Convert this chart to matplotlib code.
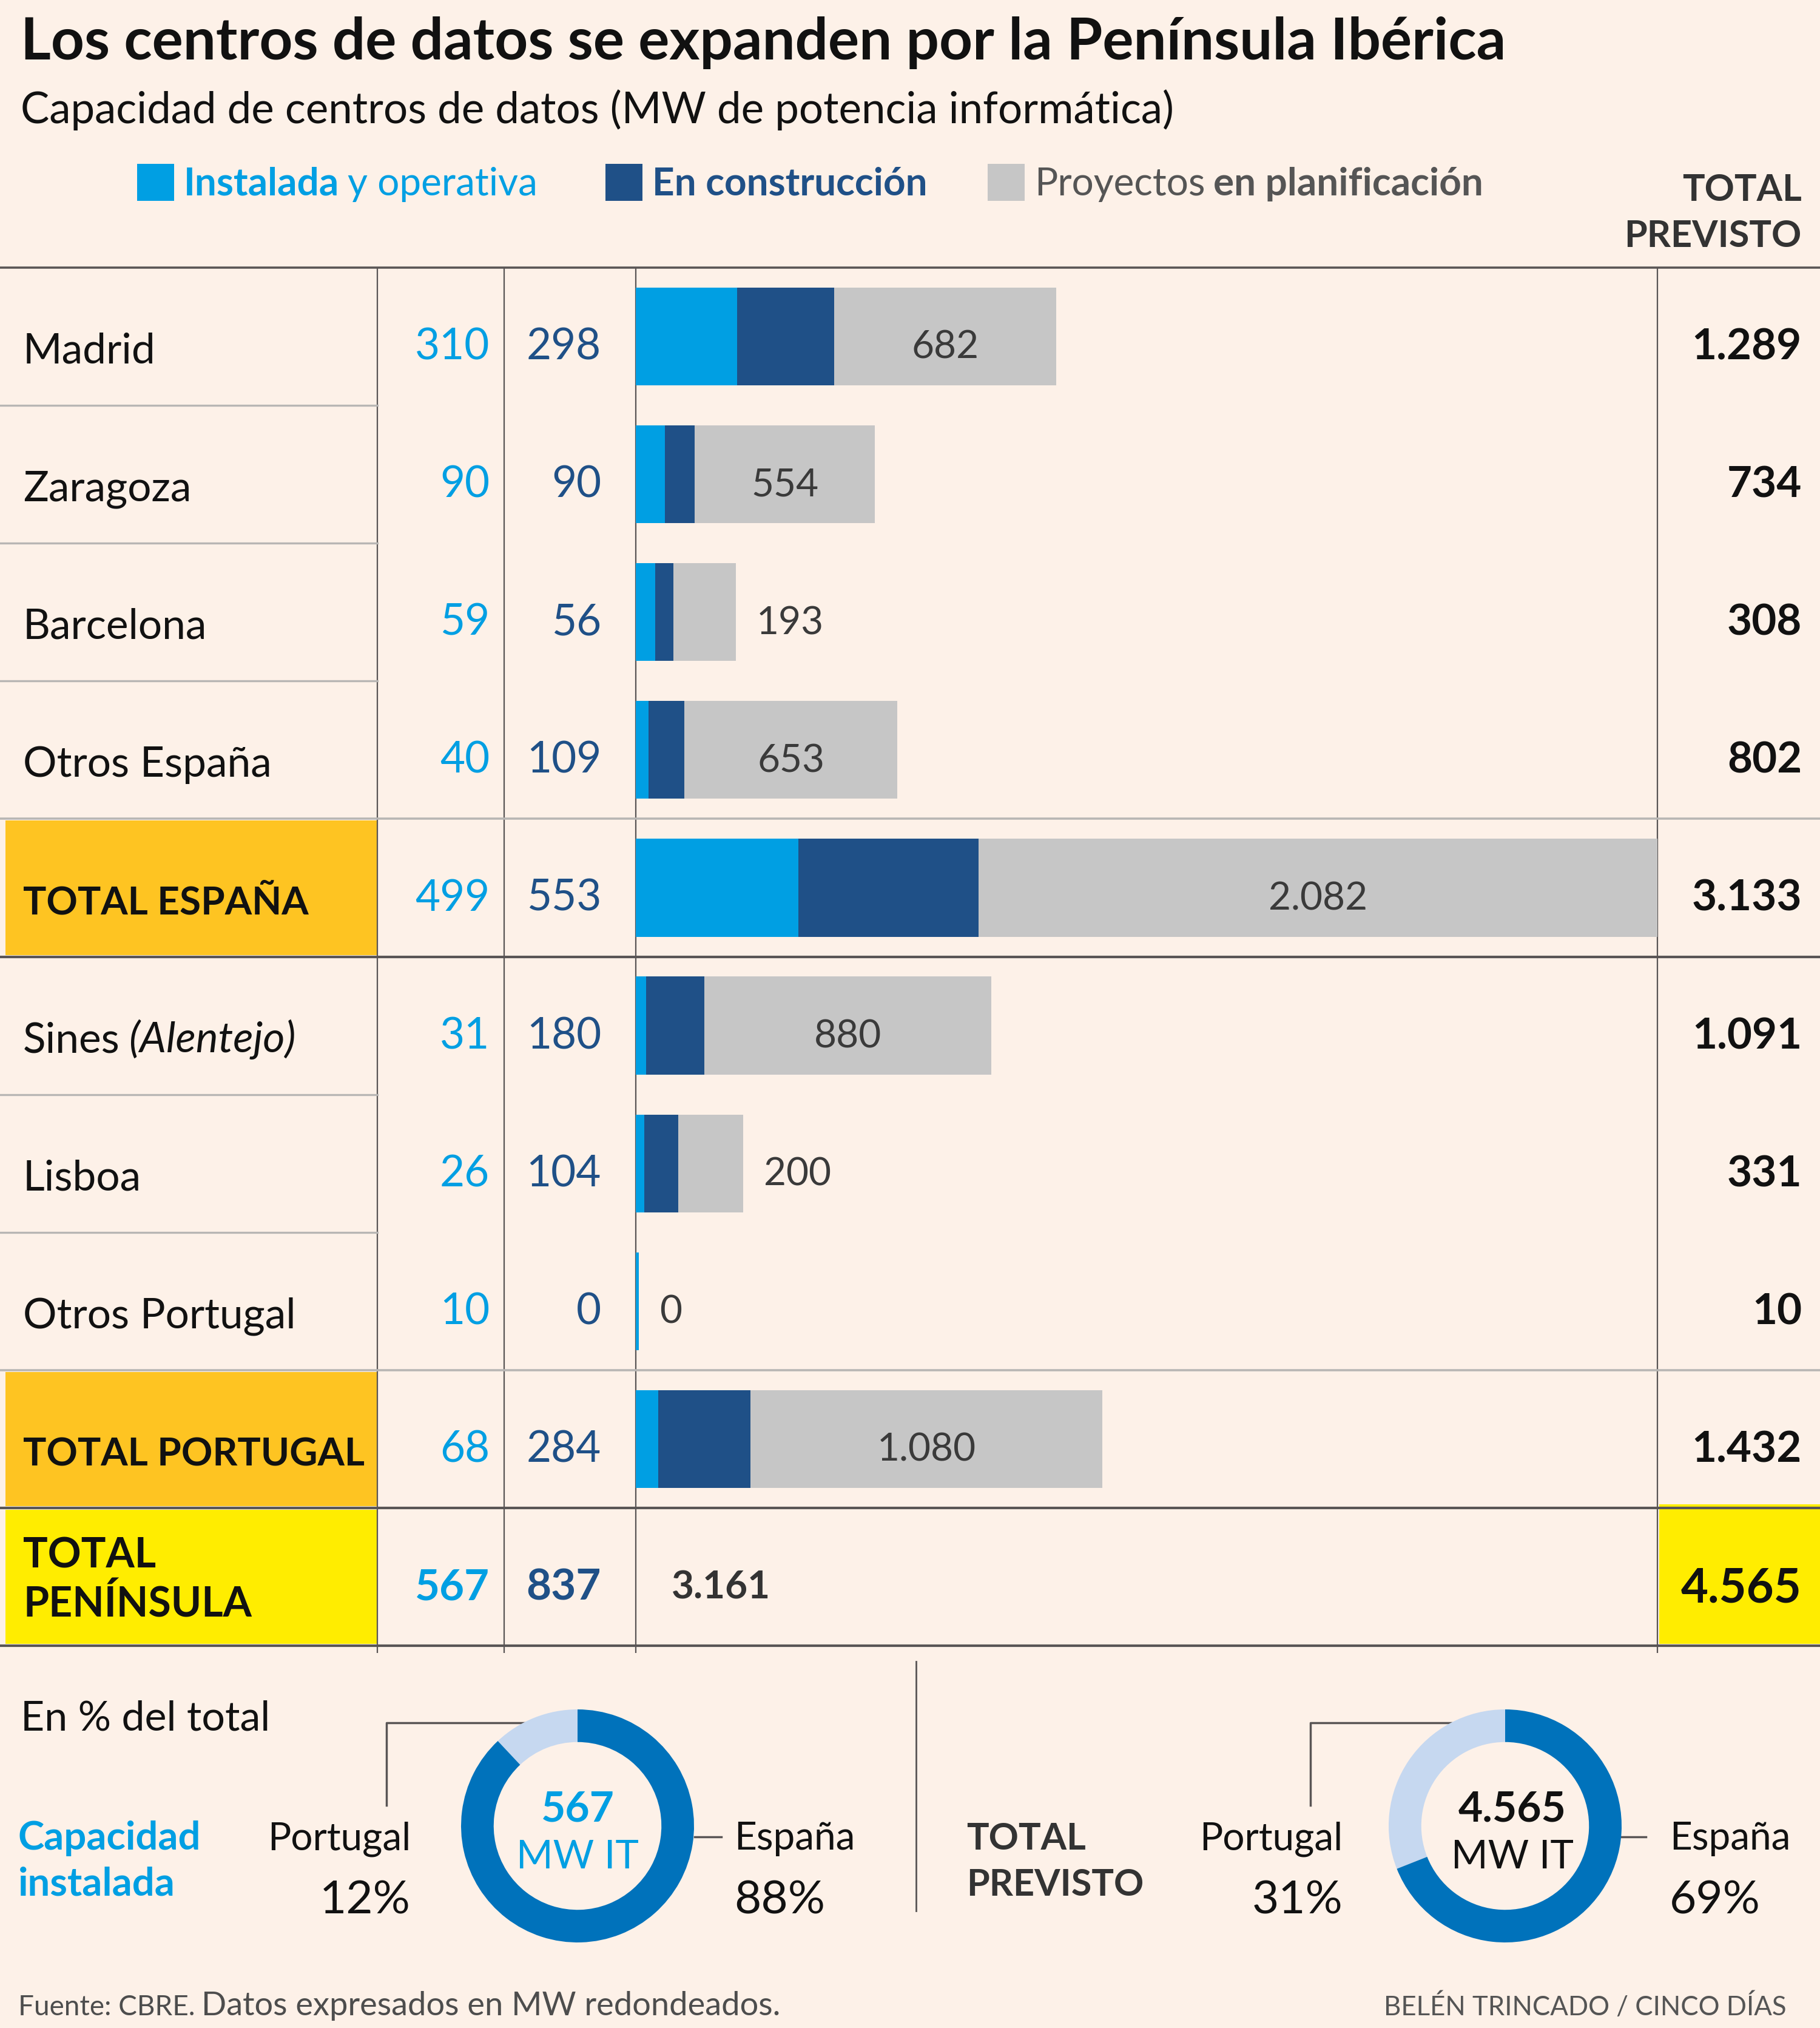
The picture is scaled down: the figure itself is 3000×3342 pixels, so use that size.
import numpy as np
import matplotlib
matplotlib.use('Agg')
import matplotlib.pyplot as plt
from matplotlib.patches import Rectangle

plt.rcParams['font.family'] = ['Lato', 'DejaVu Sans']

# data (MW de potencia informática)
regions = ['Madrid', 'Zaragoza', 'Barcelona', 'Otros España', 'TOTAL ESPAÑA',
           'Sines (Alentejo)', 'Lisboa', 'Otros Portugal', 'TOTAL PORTUGAL',
           'TOTAL\nPENÍNSULA']
installed = [310, 90, 59, 40, 499, 31, 26, 10, 68, 567]
construction = [298, 90, 56, 109, 553, 180, 104, 0, 284, 837]
planned = [682, 554, 193, 653, 2082, 880, 200, 0, 1080, 3161]
total = [1289, 734, 308, 802, 3133, 1091, 331, 10, 1432, 4565]
total_rows = [4, 8]
grand_row = 9

donut_labels = ['Portugal', 'España']
installed_share = [12, 88]
forecast_share = [31, 69]
installed_mw = 567
forecast_mw = 4565

BG = '#fdf1e8'
C_INST = '#009fe3'
C_CONS = '#1f5087'
C_PLAN = '#c6c6c6'
C_ORANGE = '#fec422'
C_YELLOW = '#ffed00'
C_DARK = '#595555'
C_LIGHT = '#b8b6b4'
C_ES = '#0072bb'
C_PT = '#c6d8f0'


def fmt(v):
    return f'{v:,}'.replace(',', '.')


W, H = 3000, 3342
fig = plt.figure(figsize=(W / 100, H / 100), dpi=100, facecolor=BG)
ax = fig.add_axes([0, 0, 1, 1], zorder=0)
ax.set_xlim(0, W)
ax.set_ylim(H, 0)
ax.axis('off')
renderer = fig.canvas.get_renderer()


def rich(x, y, parts, size, color, gap=14):
    # parts: list of (text, weight, style); returns right edge
    for txt, weight, style in parts:
        t = ax.text(x, y, txt, fontsize=size, color=color, fontweight=weight,
                    fontstyle=style, va='baseline', ha='left')
        bb = t.get_window_extent(renderer)
        x = bb.x1 + gap
    return x


# header
ax.text(34, 98, 'Los centros de datos se expanden por la Península Ibérica',
        fontsize=69, fontweight='bold', color='#111111', va='baseline')
ax.text(34, 203, 'Capacidad de centros de datos (MW de potencia informática)',
        fontsize=51, color='#111111', va='baseline')

legend_items = [
    (226, C_INST, C_INST, [('Instalada', 'bold', 'normal'), ('y operativa', 'normal', 'normal')]),
    (998, C_CONS, C_CONS, [('En construcción', 'bold', 'normal')]),
    (1628, C_PLAN, '#555555', [('Proyectos', 'normal', 'normal'), ('en planificación', 'bold', 'normal')]),
]
for x0, fc, tc, parts in legend_items:
    ax.add_patch(Rectangle((x0, 270), 61, 61, facecolor=fc, edgecolor='none'))
    rich(x0 + 77, 322, parts, 46, tc)

ax.text(2970, 331, 'TOTAL', fontsize=44, fontweight='bold', color='#333333',
        ha='right', va='baseline')
ax.text(2970, 407, 'PREVISTO', fontsize=44, fontweight='bold', color='#333333',
        ha='right', va='baseline')

# table layout
TOP = 441
ROW_H = 227.1
N = len(regions)
BOT = TOP + N * ROW_H
X_COL1, X_COL2, X_BAR0, X_BAR1 = 622, 831, 1048, 2732

for i in total_rows:
    ax.add_patch(Rectangle((9, TOP + i * ROW_H + 3), X_COL1 - 9, ROW_H - 6,
                           facecolor=C_ORANGE, edgecolor='none'))
ax.add_patch(Rectangle((9, TOP + grand_row * ROW_H + 3), X_COL1 - 9, ROW_H - 6,
                       facecolor=C_YELLOW, edgecolor='none'))
ax.add_patch(Rectangle((X_BAR1 + 3, TOP + grand_row * ROW_H - 6), W - X_BAR1, ROW_H + 3,
                       facecolor=C_YELLOW, edgecolor='none'))

for x in [X_COL1, X_COL2, X_BAR0, X_BAR1]:
    ax.plot([x, x], [TOP, BOT + 12], color=C_DARK, lw=1.6, solid_capstyle='butt')

ax.plot([0, W], [TOP, TOP], color=C_DARK, lw=2.6)
for i in range(1, N):
    y = TOP + i * ROW_H
    if i in total_rows:
        ax.plot([0, W], [y, y], color=C_LIGHT, lw=2.6)
    elif (i - 1) in total_rows:
        ax.plot([0, W], [y, y], color=C_DARK, lw=3.0)
    else:
        ax.plot([0, X_COL1], [y, y], color=C_LIGHT, lw=2.4)
ax.plot([0, W], [BOT, BOT], color=C_DARK, lw=3.0)

# row texts
for i, name in enumerate(regions):
    yc = TOP + (i + 0.5) * ROW_H
    is_total = i in total_rows or i == grand_row
    w = 'bold' if is_total else 'normal'
    if i == grand_row:
        ax.text(38, yc + 6, name, fontsize=49, fontweight='bold', color='#111111',
                va='center', linespacing=1.3)
    elif '(' in name:
        a, b = name.split('(')
        rich(38, yc + 44, [(a.strip(), 'normal', 'normal'), ('(' + b, 'normal', 'italic')],
             50, '#111111')
    else:
        ax.text(38, yc + 44, name, fontsize=46 if is_total else 50, fontweight=w,
                color='#111111', va='baseline')
    nw = 'bold' if i == grand_row else 'normal'
    ax.text(807, yc + 38, fmt(installed[i]), fontsize=51, fontweight=nw, color=C_INST,
            ha='right', va='baseline')
    ax.text(991, yc + 38, fmt(construction[i]), fontsize=51, fontweight=nw, color=C_CONS,
            ha='right', va='baseline')
    ax.text(2970, yc + 38 + (4 if i == grand_row else 0), fmt(total[i]),
            fontsize=56 if i == grand_row else 51,
            fontweight='bold', color='#111111', ha='right', va='baseline')

# stacked bars
bx = fig.add_axes([X_BAR0 / W, 1 - BOT / H, (X_BAR1 - X_BAR0) / W, N * ROW_H / H], zorder=1)
bx.patch.set_alpha(0)
bx.axis('off')
inst = np.array(installed[:grand_row])
cons = np.array(construction[:grand_row])
plan = np.array(planned[:grand_row])
ypos = np.arange(grand_row) + 0.5
bx.set_xlim(0, (inst + cons + plan).max())
bx.set_ylim(N, 0)
bx.barh(ypos, inst, height=0.71, color=C_INST, linewidth=0)
bx.barh(ypos, cons, left=inst, height=0.71, color=C_CONS, linewidth=0)
bx.barh(ypos, plan, left=inst + cons, height=0.71, color=C_PLAN, linewidth=0)
for k in range(grand_row):
    left = inst[k] + cons[k]
    if plan[k] >= 400:
        bx.text(left + plan[k] / 2, ypos[k] + 0.16, fmt(plan[k]), fontsize=46,
                color='#3a3a3a', ha='center', va='baseline')
    else:
        bx.text(left + plan[k] + 62, ypos[k] + 0.16, fmt(plan[k]), fontsize=46,
                color='#3a3a3a', ha='left', va='baseline')
bx.text(110, grand_row + 0.5 + 0.16, fmt(planned[grand_row]), fontsize=46,
        fontweight='bold', color='#333333', ha='left', va='baseline')

# donuts
R = 192


def donut(cx, cy, shares, value, vcol, dx=0):
    dax = fig.add_axes([(cx - R) / W, 1 - (cy + R) / H, 2 * R / W, 2 * R / H])
    dax.pie(shares, colors=[C_PT, C_ES], startangle=90, counterclock=True,
            radius=1, wedgeprops=dict(width=0.28, edgecolor='none'))
    dax.set_xlim(-1, 1)
    dax.set_ylim(-1, 1)
    ax.text(cx + dx, 3002, fmt(value), fontsize=50, fontweight='bold', color=vcol,
            ha='center', va='baseline')
    ax.text(cx + dx, 3079, 'MW IT', fontsize=47, color=vcol, ha='center', va='baseline')


ax.text(34, 2852, 'En % del total', fontsize=49, color='#111111', va='baseline')
ax.text(30, 3048, 'Capacidad', fontsize=47, fontweight='bold', color=C_INST, va='baseline')
ax.text(30, 3124, 'instalada', fontsize=47, fontweight='bold', color=C_INST, va='baseline')
donut(952, 3009, installed_share, installed_mw, C_INST)
ax.text(677, 3048, donut_labels[0], fontsize=46, color='#111111', ha='right', va='baseline')
ax.text(677, 3153, f'{installed_share[0]}%', fontsize=55, color='#111111', ha='right', va='baseline')
ax.text(1210, 3048, donut_labels[1], fontsize=46, color='#111111', ha='left', va='baseline')
ax.text(1210, 3153, f'{installed_share[1]}%', fontsize=55, color='#111111', ha='left', va='baseline')
ax.plot([637, 637, 866], [2975, 2839, 2839], color=C_DARK, lw=2.5)
ax.plot([1145, 1189], [3027, 3027], color=C_DARK, lw=2.5)

ax.plot([1510, 1510], [2738, 3149], color=C_DARK, lw=2)

ax.text(1593, 3048, 'TOTAL', fontsize=44, fontweight='bold', color='#333333', va='baseline')
ax.text(1593, 3124, 'PREVISTO', fontsize=44, fontweight='bold', color='#333333', va='baseline')
donut(2481, 3009, forecast_share, forecast_mw, '#111111', dx=12)
ax.text(2213, 3048, donut_labels[0], fontsize=46, color='#111111', ha='right', va='baseline')
ax.text(2213, 3153, f'{forecast_share[0]}%', fontsize=55, color='#111111', ha='right', va='baseline')
ax.text(2752, 3048, donut_labels[1], fontsize=46, color='#111111', ha='left', va='baseline')
ax.text(2752, 3153, f'{forecast_share[1]}%', fontsize=55, color='#111111', ha='left', va='baseline')
ax.plot([2160, 2160, 2392], [2975, 2839, 2839], color=C_DARK, lw=2.5)
ax.plot([2673, 2713], [3027, 3027], color=C_DARK, lw=2.5)

# footer
x_end = rich(30, 3321, [('Fuente: CBRE.', 'normal', 'normal')], 33, '#4d4d4d', gap=10)
ax.text(x_end, 3321, 'Datos expresados en MW redondeados.', fontsize=39,
        color='#4d4d4d', va='baseline')
ax.text(2945, 3321, 'BELÉN TRINCADO / CINCO DÍAS', fontsize=31.5, color='#555555',
        ha='right', va='baseline')

fig.savefig('out.png', dpi=100, facecolor=BG)
